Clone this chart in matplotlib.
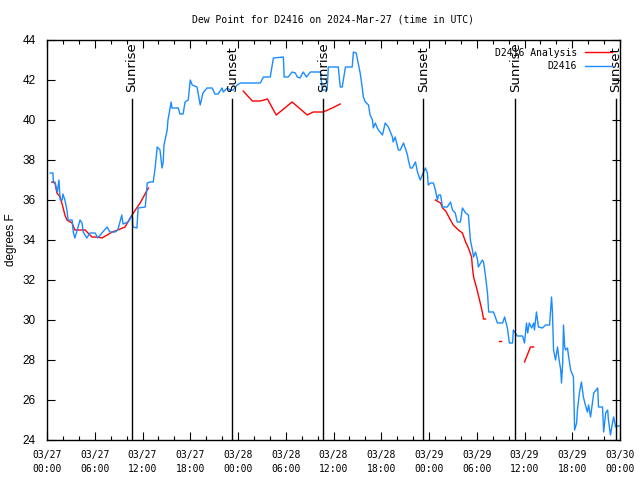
import numpy as np
import matplotlib
matplotlib.use("Agg")
import matplotlib.pyplot as plt
import matplotlib.dates as mdates

start = np.datetime64("2024-03-27T00:00")

# hours after 03/27 00:00 UTC, dew point (F)
obs_hours = [0.4, 0.75, 0.8, 1.0, 1.3, 1.5, 1.65, 1.9, 2.0, 2.25, 2.5, 2.65, 3.15, 3.3, 3.5, 3.8,
             4.15, 4.4, 4.55, 5.0, 5.4, 6.05, 6.4, 6.9, 7.55, 7.9, 8.55, 8.9, 9.4, 9.55, 10.2, 10.7,
             10.8, 11.3, 11.45, 12.35, 12.6, 13.0, 13.35, 13.6, 13.85, 14.2, 14.45, 14.6, 14.7, 15.1,
             15.2, 15.6, 15.7, 16.5, 16.7, 17.1, 17.35, 17.75, 18.0, 18.25, 18.85, 19.25, 19.6, 20.1,
             20.75, 21.1, 21.5, 22.0, 22.15, 22.65, 23.0, 23.4, 23.9, 24.3, 26.8, 27.2, 28.05, 28.45,
             29.7, 29.8, 30.3, 30.8, 31.2, 31.45, 31.8, 32.2, 32.6, 33.1, 34.35, 34.6, 35.2, 35.35,
             36.6, 36.85, 37.1, 37.5, 38.35, 38.5, 38.85, 39.1, 39.35, 39.6, 39.75, 40.0, 40.4, 40.6,
             40.9, 41.0, 41.25, 41.5, 41.65, 42.15, 42.5, 42.9, 43.4, 43.5, 43.75, 44.15, 44.4, 44.8,
             45.3, 45.4, 45.65, 45.9, 46.3, 46.55, 46.9, 47.15, 47.55, 47.8, 47.9, 48.2, 48.55, 48.8,
             49.05, 49.2, 49.45, 49.7, 50.3, 50.45, 50.7, 50.95, 51.3, 51.55, 51.95, 52.2, 52.6, 52.95,
             53.2, 53.45, 53.6, 53.85, 54.1, 54.2, 54.7, 54.85, 55.1, 55.35, 55.5, 56.1, 56.6, 57.25,
             57.5, 57.85, 58.1, 58.5, 58.6, 58.85, 59.1, 59.75, 60.0, 60.25, 60.4, 60.6, 60.9, 61.15,
             61.25, 61.5, 61.75, 62.25, 62.65, 63.15, 63.4, 63.5, 63.65, 63.9, 64.15, 64.3, 64.55,
             64.65, 64.8, 64.9, 65.05, 65.15, 65.4, 65.55, 65.8, 66.15, 66.3, 66.55, 66.65, 66.9,
             67.15, 67.4, 67.65, 67.9, 68.05, 68.3, 68.7, 69.2, 69.3, 69.8, 69.95, 70.2, 70.45, 70.55,
             70.8, 71.05, 71.2, 71.45, 71.8, 72.0]
obs_dewpt = [37.35, 37.35, 36.9, 36.9, 36.4, 37.0, 36.0, 36.0, 36.3, 36.0, 35.5, 35.0, 35.0, 34.4, 34.1, 34.5,
             35.0, 34.85, 34.4, 34.1, 34.35, 34.35, 34.1, 34.35, 34.65, 34.4, 34.4, 34.5, 35.25, 34.8, 34.9, 35.25,
             34.65, 34.6, 35.6, 35.65, 36.85, 36.9, 36.9, 37.65, 38.65, 38.5, 37.6, 37.9, 38.75, 39.5,
             40.0, 40.9, 40.6, 40.6, 40.3, 40.3, 40.9, 41.0, 42.0, 41.75, 41.65, 40.75, 41.35, 41.6,
             41.6, 41.3, 41.3, 41.6, 41.4, 41.6, 41.5, 41.5, 41.75, 41.85, 41.85, 42.15, 42.15, 43.1,
             43.15, 42.15, 42.15, 42.4, 42.35, 42.15, 42.1, 42.4, 42.15, 42.4, 42.4, 41.5, 41.5, 42.65,
             42.65, 41.65, 41.65, 42.65, 42.65, 43.4, 43.35, 42.85, 42.35, 41.65, 41.15, 40.9, 40.75, 40.25,
             40.0, 39.6, 39.85, 39.6, 39.5, 39.25, 39.85, 39.65, 39.15, 38.9, 39.15, 38.5, 38.5, 38.85,
             38.25, 38.0, 37.6, 37.6, 37.9, 37.4, 37.0, 37.25, 37.6, 37.35, 36.75, 36.85, 36.85, 36.5,
             36.0, 36.25, 36.25, 35.65, 35.65, 35.75, 35.9, 35.5, 35.35, 34.9, 34.9, 35.6, 35.35, 35.25,
             34.0, 33.5, 33.15, 33.4, 33.0, 32.65, 33.0, 32.9, 32.2, 31.35, 30.4, 30.4, 29.85, 29.85,
             30.15, 29.6, 28.85, 28.85, 29.5, 29.35, 29.2, 29.2, 28.85, 29.85, 29.35, 29.85, 29.6, 29.85,
             29.5, 30.4, 29.65, 29.6, 29.75, 29.75, 31.15, 30.5, 28.5, 28.0, 28.65, 28.15, 27.5,
             26.85, 27.85, 29.75, 28.65, 28.5, 28.6, 28.15, 27.5, 27.15, 24.5, 24.85, 25.5, 26.35,
             26.9, 26.15, 25.75, 25.4, 25.75, 25.15, 26.35, 26.6, 25.65, 25.65, 24.4, 25.35, 25.5, 25.0,
             24.25, 24.85, 25.15, 24.65, 24.7, 24.7]

# analysis segments (hours, dew point)
ana_hours = [
    [0.6, 1.0, 1.25, 1.65, 2.0, 2.25, 2.5, 3.15, 3.5, 4.8, 5.15, 5.65, 6.4, 6.9, 8.2, 8.9, 9.8,
     10.45, 11.1, 11.7, 12.6, 12.75],
    [24.65, 25.8, 26.8, 27.7, 28.8, 30.8, 32.7, 33.45, 34.7, 35.85, 36.85],
    [48.8, 49.45, 49.7, 50.1, 50.7, 51.05, 51.7, 52.2, 52.6, 52.95, 53.35, 53.45, 53.6, 53.95,
     54.35, 54.7, 54.85, 55.1],
    [56.75, 57.1],
    [60.0, 60.5, 60.75, 61.15],
]
ana_dewpt = [
    [36.9, 36.85, 36.35, 36.15, 35.65, 35.25, 35.0, 34.85, 34.5, 34.5, 34.35, 34.15, 34.15, 34.1,
     34.4, 34.5, 34.65, 35.1, 35.5, 35.85, 36.5, 36.6],
    [41.45, 40.95, 40.95, 41.05, 40.25, 40.9, 40.25, 40.4, 40.4, 40.6, 40.8],
    [36.0, 35.85, 35.6, 35.45, 35.0, 34.75, 34.5, 34.35, 33.9, 33.6, 33.15, 32.65, 32.15, 31.65,
     31.0, 30.4, 30.05, 30.05],
    [28.95, 28.95],
    [27.9, 28.4, 28.65, 28.65],
]

sun_hours = [10.69, 23.27, 34.72, 47.3, 58.87, 71.45]
sun_labels = ["Sunrise", "Sunset", "Sunrise", "Sunset", "Sunrise", "Sunset"]


def to_time(hours):
    return start + (np.array(hours) * 60).round().astype("timedelta64[m]")


mono = "DejaVu Sans Mono"
fig = plt.figure(figsize=(6.4, 4.8), dpi=100)
ax = fig.add_axes([47 / 640, 40 / 480, 573 / 640, 400 / 480])

for h, v in zip(ana_hours, ana_dewpt):
    ax.plot(to_time(h), v, color="#ff0000", lw=1.0,
            label="D2416 Analysis" if h is ana_hours[0] else None)
ax.plot(to_time(obs_hours), obs_dewpt, color="#1a8cff", lw=1.0, label="D2416")

for h, lab in zip(sun_hours, sun_labels):
    t = to_time([h])[0]
    ax.plot([t, t], [24, 41.05], color="black", lw=1.0)
    ax.text(t, 41.4, lab, rotation=90, ha="center", va="bottom",
            family="DejaVu Sans", fontsize=9.5)

ax.set_xlim(to_time([0])[0], to_time([72])[0])
ax.set_ylim(24, 44)
ax.set_yticks(np.arange(24, 45, 2))
ax.xaxis.set_major_locator(mdates.HourLocator(byhour=[0, 6, 12, 18]))
ax.xaxis.set_minor_locator(mdates.HourLocator(interval=2))
ax.xaxis.set_major_formatter(mdates.DateFormatter("%m/%d\n%H:%M"))

ax.tick_params(which="both", direction="in", top=True, right=True)
ax.tick_params(which="major", length=6, width=0.8)
ax.tick_params(which="minor", length=3, width=0.8)
ax.tick_params(axis="x", pad=7)
ax.tick_params(axis="y", pad=8)
for lbl in ax.get_xticklabels():
    lbl.set_family(mono)
    lbl.set_fontsize(7)
    lbl.set_linespacing(1.5)
for lbl in ax.get_yticklabels():
    lbl.set_family("Liberation Sans")
    lbl.set_fontsize(8.5)
for sp in ax.spines.values():
    sp.set_linewidth(1.0)

fig.text(11 / 640, 0.5, "degrees F", rotation=90, ha="center", va="center",
         family="Liberation Sans", fontsize=8.5)
fig.text(333 / 640, 1 - 19 / 480, "Dew Point for D2416 on 2024-Mar-27 (time in UTC)",
         ha="center", va="center", family=mono, fontsize=7)

leg = ax.legend(loc="upper right", frameon=False, markerfirst=False,
                prop={"family": mono, "size": 7}, handlelength=2.8,
                handletextpad=0.8, labelspacing=0.35, borderaxespad=0.4)
try:
    for col in leg._legend_box._children[-1]._children:
        col.align = "right"
except Exception:
    pass

fig.savefig("out.png", dpi=100)
